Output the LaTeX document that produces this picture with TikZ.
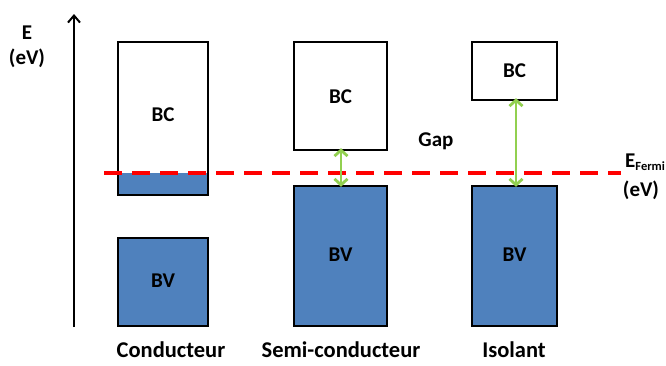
\documentclass[tikz,border=0pt]{standalone}
\usepackage{fontspec}
\setmainfont{Carlito}
\usetikzlibrary{arrows.meta}
\definecolor{bandblue}{HTML}{4F81BD}
\definecolor{fermired}{HTML}{FF0000}
\definecolor{gapgreen}{HTML}{92D050}
\tikzset{
  band/.style={draw=black, line width=2pt, inner sep=0pt},
  vband/.style={band, fill=bandblue},
  lbl/.style={font=\bfseries\fontsize{21}{24}\selectfont, inner sep=0pt},
  blbl/.style={font=\bfseries\fontsize{22.5}{26}\selectfont, inner sep=0pt, anchor=base},
  gaparrow/.style={draw=gapgreen, line width=2.8pt, {Straight Barb[length=6pt,width=13pt]}-{Straight Barb[length=6pt,width=13pt]}},
}
\begin{document}
\begin{tikzpicture}[x=1pt,y=-1pt]
\useasboundingbox (0,0) rectangle (666,365);
% axis
\coordinate (ax0) at (74,327);
\coordinate (ax1) at (74,14);
\draw[line width=2pt, -{Straight Barb[length=7pt,width=12pt]}] (ax0) -- (ax1);
\node[lbl] (E) at (27,33) {E};
\node[lbl] (EeV) at (27,58) {(eV)};
% conducteur
\fill[bandblue] (118,173) rectangle (208,195);
\draw[band] (118,42) rectangle (208,195);
\node[inner sep=0pt, minimum width=90pt, minimum height=153pt] (cbc) at (163,118.5) {};
\node[lbl] at (163,115) {BC};
\draw[vband] (118,238) rectangle (208,326);
\node[inner sep=0pt, minimum width=90pt, minimum height=88pt] (cbv) at (163,282) {};
\node[lbl] at (163,281) {BV};
% semi
\draw[band] (294,42) rectangle (387,150);
\node[inner sep=0pt, minimum width=93pt, minimum height=108pt] (sbc) at (340.5,96) {};
\node[lbl] at (340.5,97) {BC};
\draw[vband] (294,186) rectangle (387,326);
\node[inner sep=0pt, minimum width=93pt, minimum height=140pt] (sbv) at (340.5,256) {};
\node[lbl] at (340.5,255) {BV};
% isolant
\draw[band] (472,42) rectangle (557,100);
\node[inner sep=0pt, minimum width=85pt, minimum height=58pt] (ibc) at (514.5,71) {};
\node[lbl] at (514.5,71) {BC};
\draw[vband] (472,186) rectangle (557,326);
\node[inner sep=0pt, minimum width=85pt, minimum height=140pt] (ibv) at (514.5,256) {};
\node[lbl] at (514.5,255) {BV};
% fermi level
\coordinate (f0) at (104,173);
\coordinate (f1) at (621,173);
\draw[fermired, line width=4pt, dash pattern=on 18pt off 10pt] (f0) -- (f1);
\node[lbl, anchor=west] (EF) at (625,162) {E\raisebox{-3pt}{\fontsize{12.5}{14}\selectfont Fermi}};
\node[lbl] (EFeV) at (641,190) {(eV)};
% gap
\node[lbl] (gap) at (436,141) {Gap};
\draw[gaparrow] ([yshift=2pt]sbc.south -| 341,0) -- ([yshift=-1pt]sbv.north -| 341,0);
\draw[gaparrow] ([yshift=2pt]ibc.south -| 516,0) -- ([yshift=-1pt]ibv.north -| 516,0);
% labels
\node[blbl] (l1) at (171,357) {Conducteur};
\node[blbl] (l2) at (341,357) {Semi-conducteur};
\node[blbl] (l3) at (514,357) {Isolant};
\end{tikzpicture}
\end{document}
